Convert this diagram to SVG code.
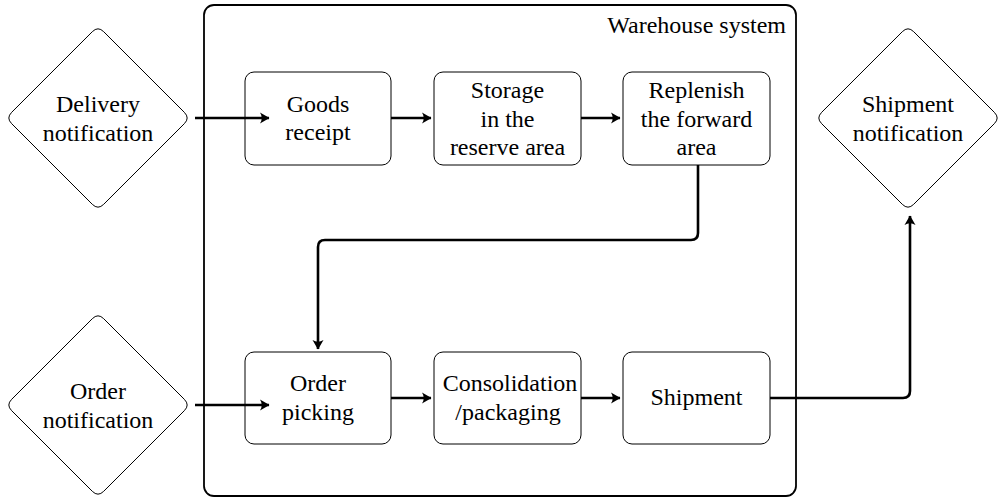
<svg xmlns="http://www.w3.org/2000/svg" width="1003" height="500" viewBox="0 0 1003 500" font-family="Liberation Serif" font-size="24" text-anchor="middle">
<defs>
<style>
svg g[id] text.t, svg text.t{font-family:'Liberation Serif',serif !important;font-size:24px;fill:#000}
.box{fill:#fff;stroke:#000;stroke-width:1}
.dia{fill:#fff;stroke:#000;stroke-width:1}
.cont{fill:none;stroke:#000;stroke-width:1.8}
.con{fill:none;stroke:#000;stroke-width:2.6;marker-end:url(#ah)}
</style>
<marker id="ah" markerUnits="userSpaceOnUse" markerWidth="14" markerHeight="14" viewBox="-10 -7 14 14" refX="1" refY="0" orient="auto">
<path d="M1.5,0 L-8,-5.5 Q-4.5,0 -8,5.5 Z" fill="#000"/>
</marker>
</defs>

<g id="warehouse">
<rect class="cont" x="204" y="5" width="592" height="491" rx="10"/>
<text class="t" x="786" y="33" text-anchor="end" style="font-family:'Liberation Serif',serif !important">Warehouse system</text>
</g>

<g id="delivery">
<path class="dia" d="M92.34,31.66 Q98,26 103.66,31.66 L184.34,112.34 Q190,118 184.34,123.66 L103.66,204.34 Q98,210 92.34,204.34 L11.66,123.66 Q6,118 11.66,112.34 Z"/>
<text class="t" x="98" y="112" style="font-family:'Liberation Serif',serif !important">Delivery</text>
<text class="t" x="98" y="141" style="font-family:'Liberation Serif',serif !important">notification</text>
</g>

<g id="order">
<path class="dia" d="M92.34,318.66 Q98,313 103.66,318.66 L184.34,399.34 Q190,405 184.34,410.66 L103.66,491.34 Q98,497 92.34,491.34 L11.66,410.66 Q6,405 11.66,399.34 Z"/>
<text class="t" x="98" y="399" style="font-family:'Liberation Serif',serif !important">Order</text>
<text class="t" x="98" y="428" style="font-family:'Liberation Serif',serif !important">notification</text>
</g>

<g id="shipnotif">
<path class="dia" d="M902.34,31.66 Q908,26 913.66,31.66 L994.34,112.34 Q1000,118 994.34,123.66 L913.66,204.34 Q908,210 902.34,204.34 L821.66,123.66 Q816,118 821.66,112.34 Z"/>
<text class="t" x="908" y="112" style="font-family:'Liberation Serif',serif !important">Shipment</text>
<text class="t" x="908" y="141" style="font-family:'Liberation Serif',serif !important">notification</text>
</g>

<g id="goods">
<rect class="box" x="245" y="72" width="146" height="93" rx="9"/>
<text class="t" x="318" y="112" style="font-family:'Liberation Serif',serif !important">Goods</text>
<text class="t" x="318" y="140" style="font-family:'Liberation Serif',serif !important">receipt</text>
</g>

<g id="storage">
<rect class="box" x="434" y="72" width="147" height="93" rx="9"/>
<text class="t" x="507.5" y="98" style="font-family:'Liberation Serif',serif !important">Storage</text>
<text class="t" x="507.5" y="127" style="font-family:'Liberation Serif',serif !important">in the</text>
<text class="t" x="507.5" y="155" style="font-family:'Liberation Serif',serif !important">reserve area</text>
</g>

<g id="replenish">
<rect class="box" x="623" y="72" width="147" height="93" rx="9"/>
<text class="t" x="696.5" y="98" style="font-family:'Liberation Serif',serif !important">Replenish</text>
<text class="t" x="696.5" y="127" style="font-family:'Liberation Serif',serif !important">the forward</text>
<text class="t" x="696.5" y="155" style="font-family:'Liberation Serif',serif !important">area</text>
</g>

<g id="picking">
<rect class="box" x="245" y="352" width="146" height="92" rx="9"/>
<text class="t" x="318" y="391" style="font-family:'Liberation Serif',serif !important">Order</text>
<text class="t" x="318" y="420" style="font-family:'Liberation Serif',serif !important">picking</text>
</g>

<g id="consolidation">
<rect class="box" x="434" y="352" width="147" height="92" rx="9"/>
<text class="t" x="510" y="391" style="font-family:'Liberation Serif',serif !important">Consolidation</text>
<text class="t" x="508" y="420" style="font-family:'Liberation Serif',serif !important">/packaging</text>
</g>

<g id="shipment">
<rect class="box" x="623" y="352" width="147" height="92" rx="9"/>
<text class="t" x="696.5" y="405" style="font-family:'Liberation Serif',serif !important">Shipment</text>
</g>

<g id="connectors">
<path class="con" d="M195,118 H269"/>
<path class="con" d="M391,118 H431"/>
<path class="con" d="M581,118 H620"/>
<path class="con" d="M698,165 V233 Q698,240 691,240 H325 Q318,240 318,247 V349"/>
<path class="con" d="M195,405 H269"/>
<path class="con" d="M391,398 H431"/>
<path class="con" d="M581,398 H620"/>
<path class="con" d="M770,398 H903 Q910,398 910,391 V216"/>
</g>
</svg>
